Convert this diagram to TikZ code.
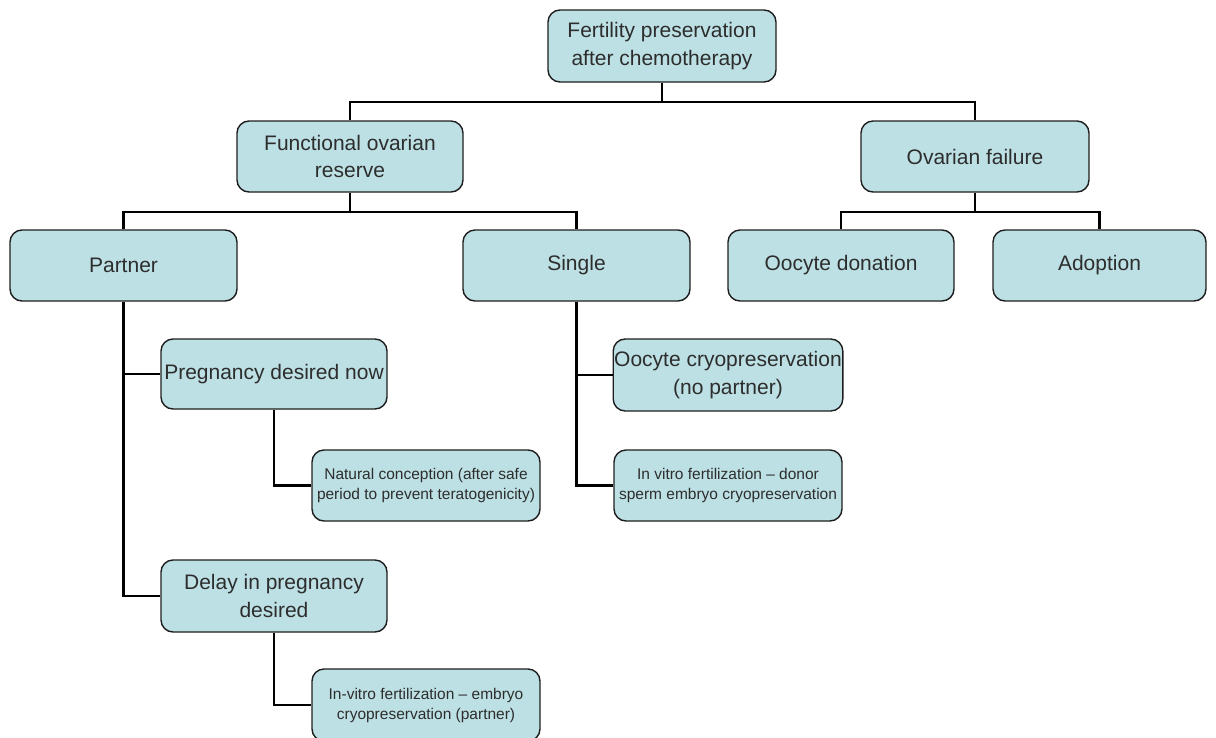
\documentclass[tikz,border=0pt]{standalone}
\usepackage{fontspec}
\setmainfont{Liberation Sans}
\definecolor{boxfill}{RGB}{189,224,228}
\definecolor{boxline}{RGB}{30,30,30}
\definecolor{txt}{RGB}{45,45,45}
\begin{document}
\begin{tikzpicture}[x=1pt,y=1pt,
  box/.style={draw=boxline, line width=1.4pt, fill=boxfill, rounded corners=12pt,
    align=center, text=txt, inner sep=1pt, font=\fontsize{21}{27.5}\selectfont},
  small/.style={box, font=\fontsize{15.5}{20}\selectfont},
  conn/.style={draw=black, line width=2.8pt}]
\useasboundingbox (0,0) rectangle (1216,-737);
\node[box, minimum width=228pt, minimum height=72pt] (root) at (662,-46) {Fertility preservation\\after chemotherapy};
\node[box, minimum width=226pt, minimum height=71pt] (for) at (350,-156.5) {Functional ovarian\\reserve};
\node[box, minimum width=228pt, minimum height=71pt] (of) at (975,-156.5) {Ovarian failure};
\node[box, minimum width=227pt, minimum height=71pt] (partner) at (123.5,-265.5) {Partner};
\node[box, minimum width=227pt, minimum height=71pt] (single) at (576.5,-265.5) {Single};
\node[box, minimum width=226pt, minimum height=71pt] (donation) at (841,-265.5) {Oocyte donation};
\node[box, minimum width=213pt, minimum height=71pt] (adoption) at (1099.5,-265.5) {Adoption};
\node[box, minimum width=226pt, minimum height=70pt] (pregnow) at (274,-374) {Pregnancy desired now};
\node[small, minimum width=228pt, minimum height=71pt] (natural) at (426,-485.5) {Natural conception (after safe\\period to prevent teratogenicity)};
\node[box, minimum width=226pt, minimum height=72pt] (delay) at (274,-596) {Delay in pregnancy\\desired};
\node[small, minimum width=228pt, minimum height=72pt] (ivf) at (426,-705) {In-vitro fertilization -- embryo\\cryopreservation (partner)};
\node[box, minimum width=228pt, minimum height=72pt] (oocyte) at (728,-375) {Oocyte cryopreservation\\(no partner)};
\node[small, minimum width=228pt, minimum height=71pt] (donor) at (728,-485.5) {In vitro fertilization -- donor\\sperm embryo cryopreservation};
% connectors
\coordinate (j1) at (662,-102);
\draw[conn] (root.south) -- (j1);
\draw[conn] (for.north) |- (j1) -| (of.north);
\coordinate (j2) at (350,-212);
\draw[conn] (for.south) -- (j2);
\draw[conn] (partner.north) |- (j2) -| (single.north);
\coordinate (j3) at (975,-212);
\draw[conn] (of.south) -- (j3);
\draw[conn] (donation.north) |- (j3) -| (adoption.north);
\draw[conn] (partner.south) |- (delay.west);
\draw[conn] (partner.south |- pregnow.west) -- (pregnow.west);
\draw[conn] (pregnow.south) |- (natural.west);
\draw[conn] (delay.south) |- (ivf.west);
\draw[conn] (single.south) |- (donor.west);
\draw[conn] (single.south |- oocyte.west) -- (oocyte.west);
\end{tikzpicture}
\end{document}
